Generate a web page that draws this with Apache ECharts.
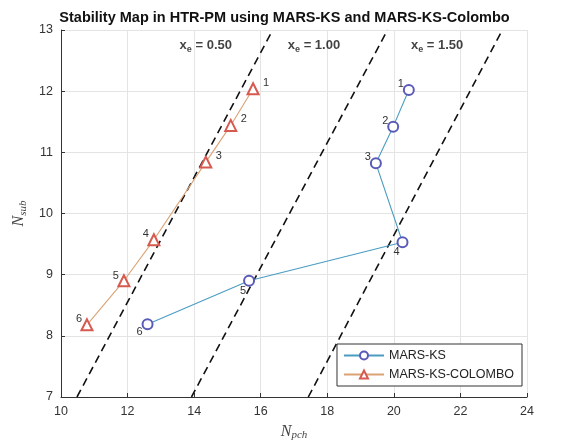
<!DOCTYPE html>
<html>
<head>
<meta charset="utf-8">
<script src="https://cdn.jsdelivr.net/npm/echarts@6/dist/echarts.min.js"></script>
<style>
  html, body { margin: 0; padding: 0; background: #fff; }
  #chart { width: 569px; height: 446px; }
</style>
</head>
<body>
<div id="chart"></div>
<script>
// data
const marsKsNpch = [20.45, 19.98, 19.46, 20.26, 15.65, 12.60]
const marsKsNsub = [12.02, 11.42, 10.82, 9.53, 8.90, 8.19]
const colomboNpch = [15.77, 15.10, 14.35, 12.79, 11.89, 10.78]
const colomboNsub = [12.04, 11.44, 10.84, 9.57, 8.90, 8.18]
const pointNames = ['1', '2', '3', '4', '5', '6']

// constant exit quality lines [Npch at Nsub=7, Npch at Nsub=13]
const qualityNames = ['0.50', '1.00', '1.50']
const qualityLow = [10.48, 13.92, 17.43]
const qualityHigh = [16.36, 19.81, 23.26]
const qualityLabelX = [14.35, 17.6, 21.3]
const qualityLabelY = 12.75

const xTicks = [10, 12, 14, 16, 18, 20, 22, 24]
const yTicks = [7, 8, 9, 10, 11, 12, 13]

// label offsets per point (upper-left, below etc.)
const ksOffsets = [[-8, -6], [-8, -6], [-8, -6], [-6, 10], [-6, 10], [-8, 8]]
const colOffsets = [[13, -6], [13, -6], [13, -6], [-8, -6], [-8, -5], [-8, -6]]

const chart = echarts.init(document.getElementById('chart'))

function pointsWithLabels(xs, ys, offsets) {
  return xs.map((x, i) => ({
    value: [x, ys[i]],
    name: pointNames[i],
    label: { offset: offsets[i] }
  }))
}

const labelStyle = {
  show: true,
  position: 'inside',
  formatter: p => p.name,
  color: '#333',
  fontSize: 11,
  fontFamily: 'Liberation Sans, Arial, sans-serif'
}

const dashSeries = qualityNames.map((q, i) => ({
  name: 'xe' + q,
  type: 'line',
  data: [[qualityLow[i], 7], [qualityHigh[i], 13]],
  symbol: 'none',
  lineStyle: { color: '#111', width: 1.6, type: [8, 5] },
  silent: true,
  z: 1
}))

const qualityText = {
  name: 'xeLabels',
  type: 'scatter',
  symbol: 'circle',
  symbolSize: 2,
  itemStyle: { color: 'rgba(255,255,255,0)' },
  data: qualityNames.map((q, i) => ({ value: [qualityLabelX[i], qualityLabelY], name: q })),
  label: {
    show: true,
    position: 'inside',
    formatter: p => '{x|x}{e|e}{t| = ' + p.name + '}',
    rich: {
      x: { fontSize: 13, fontWeight: 'bold', color: '#111', fontFamily: 'Liberation Sans, Arial' },
      e: { fontSize: 9, fontWeight: 'bold', color: '#111', fontFamily: 'Liberation Sans, Arial', padding: [8, 0, 0, 0] },
      t: { fontSize: 13, fontWeight: 'bold', color: '#111', fontFamily: 'Liberation Sans, Arial' }
    }
  },
  labelLayout: { hideOverlap: false },
  silent: true,
  z: 5
}

const option = {
  animation: false,
  backgroundColor: '#fff',
  title: {
    text: 'Stability Map in HTR-PM using MARS-KS and MARS-KS-Colombo',
    left: 'center',
    top: 5,
    textStyle: { fontSize: 14.5, fontWeight: 'bold', color: '#111', fontFamily: 'Liberation Sans, Arial' }
  },
  grid: { left: 61, right: 42, top: 30, bottom: 49 },
  legend: {
    data: ['MARS-KS', 'MARS-KS-COLOMBO'],
    orient: 'vertical',
    right: 47,
    bottom: 60,
    itemWidth: 40,
    itemHeight: 10,
    itemGap: 6,
    padding: [5, 8, 5, 6],
    borderColor: '#333',
    borderWidth: 1,
    backgroundColor: '#fff',
    textStyle: { fontSize: 12.5, color: '#222', fontFamily: 'Liberation Sans, Arial' }
  },
  xAxis: {
    type: 'value',
    min: 10,
    max: 24,
    interval: 2,
    name: '{n|N}{s|pch}',
    nameLocation: 'middle',
    nameGap: 25,
    nameTextStyle: {
      rich: {
        n: { fontSize: 16, fontStyle: 'italic', fontFamily: 'Liberation Serif, serif', color: '#444' },
        s: { fontSize: 11, fontStyle: 'italic', fontFamily: 'Liberation Serif, serif', color: '#444', padding: [8, 0, 0, 0] }
      }
    },
    axisLine: { show: true, lineStyle: { color: '#333' } },
    axisTick: { show: true, inside: true, length: 4, lineStyle: { color: '#333' } },
    axisLabel: {
      color: '#333', fontSize: 12.5, fontFamily: 'Liberation Sans, Arial',
      formatter: v => xTicks.includes(v) ? String(v) : ''
    },
    splitLine: { show: true, lineStyle: { color: '#e4e4e4' } }
  },
  yAxis: {
    type: 'value',
    min: 7,
    max: 13,
    interval: 1,
    name: '{n|N}{s|sub}',
    nameLocation: 'middle',
    nameRotate: 90,
    nameGap: 27,
    nameTextStyle: {
      rich: {
        n: { fontSize: 16, fontStyle: 'italic', fontFamily: 'Liberation Serif, serif', color: '#444' },
        s: { fontSize: 11, fontStyle: 'italic', fontFamily: 'Liberation Serif, serif', color: '#444', padding: [8, 0, 0, 0] }
      }
    },
    axisLine: { show: true, lineStyle: { color: '#333' } },
    axisTick: { show: true, inside: true, length: 4, lineStyle: { color: '#333' } },
    axisLabel: {
      color: '#333', fontSize: 12.5, fontFamily: 'Liberation Sans, Arial',
      formatter: v => yTicks.includes(v) ? String(v) : ''
    },
    splitLine: { show: true, lineStyle: { color: '#e4e4e4' } }
  },
  series: [
    ...dashSeries,
    {
      name: 'MARS-KS',
      type: 'line',
      data: pointsWithLabels(marsKsNpch, marsKsNsub, ksOffsets),
      symbol: 'emptyCircle',
      symbolSize: 10,
      lineStyle: { color: '#4a9cc0', width: 1.1 },
      itemStyle: { color: '#5a5ab8', borderColor: '#5a5ab8', borderWidth: 1 },
      label: labelStyle,
      z: 3
    },
    {
      name: 'MARS-KS-COLOMBO',
      type: 'line',
      data: pointsWithLabels(colomboNpch, colomboNsub, colOffsets),
      symbol: 'emptyTriangle',
      symbolSize: 11,
      lineStyle: { color: '#dba274', width: 1.1 },
      itemStyle: { color: '#d65a50', borderColor: '#d65a50', borderWidth: 1 },
      label: labelStyle,
      z: 3
    },
    qualityText
  ]
}

chart.setOption(option)
</script>
</body>
</html>
